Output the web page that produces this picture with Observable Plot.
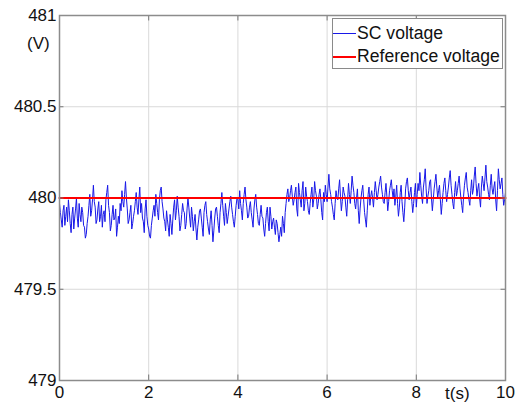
<!DOCTYPE html>
<html>
<head>
<meta charset="utf-8">
<script src="https://cdn.jsdelivr.net/npm/d3@7"></script>
<script src="https://cdn.jsdelivr.net/npm/@observablehq/plot@0.6"></script>
<style>
  html, body { margin: 0; padding: 0; background: #fff; }
  #wrap { position: relative; width: 517px; height: 404px; font-family: "Liberation Sans", Arial, sans-serif; }
  .lbl { position: absolute; font-size: 17px; color: #111; white-space: nowrap; line-height: 1; }
  #legend { position: absolute; left: 332px; top: 18px; width: 171px; height: 51px; background: #fff; border: 1px solid #8a8a8a; box-sizing: border-box; }
  .lg-row { position: absolute; left: 0; height: 20px; font-size: 17.6px; color: #111; white-space: nowrap; line-height: 20px; }
  .lg-sw { position: absolute; left: 0; top: 10px; width: 23px; }
  .lg-tx { position: absolute; left: 24px; top: 0; }
</style>
</head>
<body>
<div id="wrap"></div>
<script>
// ---- data ----
const tStart = 0, tEnd = 10; // SC voltage trace spans 0..10 s, evenly sampled
const scVoltage = [
  479.97, 479.92, 479.88, 479.84, 479.93, 479.96, 479.85, 479.90, 479.95, 479.87, 479.99, 479.93, 479.86, 479.81, 479.91, 479.95, 479.83, 479.89, 479.94, 480.00, 479.89, 479.84, 479.97, 479.91, 479.87, 479.95, 479.92, 479.85, 479.84, 479.78, 479.80, 479.86, 479.90, 479.96, 480.02, 479.90, 479.93, 479.99, 480.07, 479.98, 479.95, 479.86, 479.88, 479.94, 479.98, 479.87, 479.90, 479.96, 479.84, 479.91,
  479.93, 479.87, 479.99, 480.03, 480.07, 479.96, 479.92, 479.82, 479.85, 479.91, 479.96, 479.88, 479.89, 479.94, 479.79, 479.84, 479.90, 479.86, 479.97, 479.93, 480.04, 479.98, 479.95, 480.02, 480.09, 480.00, 479.94, 479.86, 479.88, 479.92, 479.96, 479.83, 479.86, 479.90, 479.93, 479.98, 480.03, 479.95, 479.91, 479.99, 480.06, 479.92, 479.97, 479.89, 479.87, 479.81, 479.94, 479.99, 479.90, 479.85,
  479.83, 479.79, 479.78, 479.85, 479.89, 479.93, 479.96, 479.90, 480.02, 479.97, 479.92, 479.88, 479.99, 480.04, 480.06, 479.98, 479.94, 479.89, 479.87, 479.82, 479.93, 479.88, 479.84, 479.79, 479.91, 479.86, 479.80, 479.88, 479.95, 479.99, 479.88, 479.93, 480.01, 479.95, 479.90, 479.82, 479.85, 479.91, 479.97, 479.93, 479.92, 479.83, 479.86, 479.94, 480.00, 479.95, 479.89, 479.84, 479.95, 479.90,
  479.82, 479.87, 479.91, 479.83, 479.77, 479.84, 479.88, 479.93, 479.94, 479.89, 479.84, 479.79, 479.92, 479.96, 479.98, 479.91, 479.87, 479.83, 479.80, 479.88, 479.93, 479.85, 479.76, 479.82, 479.89, 479.94, 479.95, 479.90, 479.85, 479.81, 479.92, 479.97, 480.03, 479.96, 479.90, 479.85, 479.97, 479.92, 479.86, 479.90, 479.94, 479.98, 480.01, 479.95, 479.91, 479.87, 479.84, 479.90, 479.96, 480.00,
  479.99, 479.94, 480.04, 479.97, 479.93, 479.88, 479.97, 480.02, 480.06, 479.99, 479.95, 479.89, 479.90, 479.95, 479.98, 479.92, 479.88, 479.84, 479.94, 479.99, 480.02, 479.95, 479.91, 479.86, 479.85, 479.91, 479.96, 479.90, 479.89, 479.83, 479.79, 479.86, 479.92, 479.95, 479.87, 479.82, 479.95, 479.90, 479.83, 479.87, 479.89, 479.84, 479.80, 479.88, 479.86, 479.81, 479.76, 479.80, 479.84, 479.79,
  479.90, 479.86, 479.81, 479.92, 479.97, 480.02, 480.05, 479.98, 480.00, 480.04, 480.07, 480.01, 479.96, 479.99, 480.03, 480.06, 479.94, 479.90, 480.08, 480.03, 479.99, 479.95, 480.04, 480.09, 479.93, 479.97, 480.06, 480.01, 479.98, 479.93, 479.91, 479.97, 480.02, 480.06, 479.95, 479.99, 480.09, 480.04, 480.01, 479.94, 479.97, 480.02, 480.05, 479.99, 479.92, 479.88, 480.03, 479.98, 480.07, 480.02,
  479.98, 480.06, 480.13, 480.05, 480.02, 479.98, 479.95, 479.91, 479.88, 479.97, 480.04, 480.00, 479.99, 480.05, 480.10, 480.01, 479.93, 479.98, 480.06, 480.03, 480.01, 479.95, 479.90, 479.99, 480.08, 480.02, 479.97, 480.04, 480.12, 480.07, 480.03, 479.97, 479.94, 480.00, 480.05, 479.93, 479.86, 479.94, 480.00, 480.04, 480.07, 479.99, 479.92, 479.88, 479.84, 479.93, 480.02, 480.06, 479.96, 480.01,
  480.04, 480.00, 479.95, 480.03, 480.09, 480.04, 479.99, 480.02, 480.06, 480.09, 480.12, 480.06, 480.02, 479.98, 479.97, 480.03, 480.08, 480.01, 479.93, 479.98, 480.04, 480.07, 480.10, 480.04, 480.00, 480.05, 479.96, 480.01, 480.07, 479.97, 479.90, 479.95, 480.03, 480.07, 479.98, 479.92, 479.87, 479.95, 480.05, 480.09, 480.11, 480.04, 479.99, 480.03, 480.06, 479.98, 479.92, 479.97, 480.03, 480.08,
  479.95, 480.02, 480.08, 480.04, 480.14, 480.07, 480.01, 479.97, 480.06, 480.10, 480.16, 480.05, 479.97, 480.01, 480.04, 480.09, 480.10, 480.00, 479.93, 479.99, 480.05, 480.09, 480.13, 480.06, 480.00, 480.04, 480.07, 479.99, 479.91, 479.97, 480.03, 480.08, 480.11, 480.04, 479.98, 480.02, 480.06, 480.11, 480.15, 480.07, 480.02, 479.97, 479.94, 480.03, 480.09, 480.01, 480.04, 480.08, 480.12, 480.05,
  480.00, 479.96, 479.92, 480.01, 480.07, 480.11, 480.14, 480.06, 480.03, 479.99, 479.96, 480.04, 480.10, 480.02, 480.05, 480.12, 480.17, 480.08, 480.01, 480.05, 480.08, 480.00, 479.95, 480.06, 480.12, 480.08, 480.04, 480.11, 480.18, 480.09, 480.06, 480.02, 479.99, 480.07, 480.13, 480.05, 480.02, 480.06, 480.09, 479.99, 479.93, 480.04, 480.16, 480.10, 480.05, 480.08, 480.11, 480.02, 479.96, 479.99, 480.03
];
const refTime = [0, 10];
const refVoltage = [480, 480];
const xTicks = [0, 2, 4, 6, 8, 10];
const yTicks = [479, 479.5, 480, 480.5, 481];
const seriesNames = ["SC voltage", "Reference voltage"];
const yUnit = "(V)";
const xUnit = "t(s)";

// ---- tables ----
const step = (tEnd - tStart) / (scVoltage.length - 1);
const scData = scVoltage.map((v, i) => ({t: tStart + i * step, v}));
const refData = refTime.map((t, i) => ({t, v: refVoltage[i]}));

const chart = Plot.plot({
  width: 517,
  height: 404,
  marginLeft: 59,
  marginRight: 12,
  marginTop: 15,
  marginBottom: 24,
  style: {fontFamily: "'Liberation Sans', Arial, sans-serif", fontSize: "17px", color: "#111", background: "#fff"},
  x: {domain: [0, 10]},
  y: {domain: [479, 481]},
  marks: [
    Plot.gridX(xTicks, {stroke: "#d9d9d9", strokeOpacity: 1, strokeWidth: 1}),
    Plot.gridY(yTicks, {stroke: "#d9d9d9", strokeOpacity: 1, strokeWidth: 1}),
    Plot.line(scData, {x: "t", y: "v", stroke: "#1818e8", strokeWidth: 1}),
    Plot.line(refData, {x: "t", y: "v", stroke: "#ff0000", strokeWidth: 2.2}),
    Plot.ruleX(xTicks, {x: d => d, y1: 479, y2: 479.03, stroke: "#777"}),
    Plot.ruleX(xTicks, {x: d => d, y1: 481, y2: 480.97, stroke: "#777"}),
    Plot.ruleY(yTicks, {y: d => d, x1: 0, x2: 0.1, stroke: "#777"}),
    Plot.ruleY(yTicks, {y: d => d, x1: 10, x2: 9.9, stroke: "#777"}),
    Plot.frame({stroke: "#8c8c8c", strokeWidth: 1.5}),
    Plot.axisX(xTicks, {tickSize: 0, tickPadding: 5, label: null, tickFormat: d => String(d)}),
    Plot.axisY(yTicks, {tickSize: 0, tickPadding: 3, label: null, tickFormat: d => String(d)})
  ]
});

const wrap = document.getElementById("wrap");
wrap.appendChild(chart);

// unit labels
const yl = document.createElement("div");
yl.className = "lbl"; yl.textContent = yUnit;
yl.style.left = "27px"; yl.style.top = "35px";
wrap.appendChild(yl);
const xl = document.createElement("div");
xl.className = "lbl"; xl.textContent = xUnit;
xl.style.left = "445px"; xl.style.top = "385px";
wrap.appendChild(xl);

// legend
const legend = document.createElement("div");
legend.id = "legend";
const swatches = [{color: "#1818e8", w: 1, top: 4}, {color: "#ff0000", w: 2.5, top: 27}];
seriesNames.forEach((name, i) => {
  const row = document.createElement("div");
  row.className = "lg-row";
  row.style.top = swatches[i].top + "px";
  const sw = document.createElement("div");
  sw.className = "lg-sw";
  sw.style.borderTop = swatches[i].w + "px solid " + swatches[i].color;
  const tx = document.createElement("div");
  tx.className = "lg-tx";
  tx.textContent = name;
  row.appendChild(sw); row.appendChild(tx);
  legend.appendChild(row);
});
wrap.appendChild(legend);
</script>
</body>
</html>
